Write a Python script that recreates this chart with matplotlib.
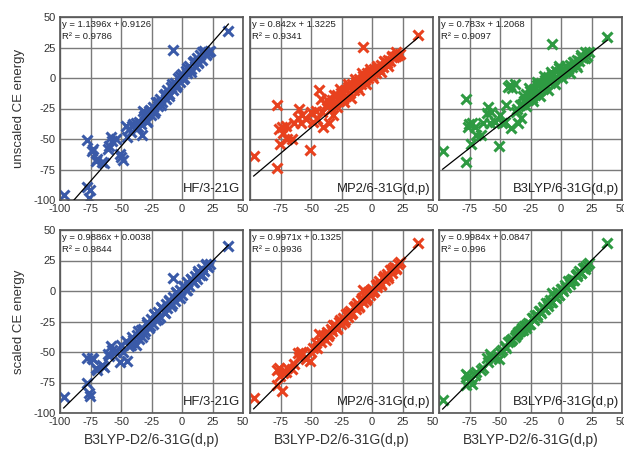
import matplotlib.pyplot as plt
import numpy as np

plt.rcParams['font.family'] = ['Liberation Sans', 'DejaVu Sans']

# reference energies (B3LYP-D2/6-31G(d,p)), shared by all panels
x_ref = [-97, -78, -77.5, -76, -75.5, -74, -73, -70.5, -70, -65.5, -64, -61, -59.5, -58, -57,
         -54.5, -51, -50, -48.5, -46, -45, -43.5, -42, -41, -40, -38, -37, -35, -34, -33, -32,
         -30, -28.5, -27, -25.5, -24, -22.5, -21, -19.5, -18, -16.5, -15, -13.5, -12, -10.5,
         -9, -7.5, -6, -4.5, -3, -1.5, 0, 1.5, 3, 4.5, 6, 7.5, 9, 10.5, 12, 13.5, 15, 16.5,
         18, 19.5, 21, -7, 38, 23,
         -36, -31, -29, -26, -23, -20, -17, -14, -11, -8, -5, -2, 1, 4, 7, 10, 13, 16, 20]

# unscaled CE energies
hf_unscaled = [-96, -51, -89, -98, -92, -60, -58, -68, -66, -69, -70, -58, -56, -48, -52,
               -50, -62, -65, -67, -39, -48, -42, -44, -39, -38, -37, -41, -36, -38, -47, -27,
               -29, -36, -27, -30, -24, -27, -20, -23, -17, -20, -14, -17, -10, -13,
               -7, -10, -4, -6, 0, -3, 3, 0, 6, 4, 10, 7, 13, 10, 16, 13, 19, 15,
               22, 19, 21, 23, 38.5, 22,
               -40, -31, -35, -26, -29, -20, -22, -13, -15, -5, -7, 2, -1, 8, 5, 14, 12, 21, 20]
mp2_unscaled = [-64, -22, -74, -42, -54, -40, -45, -39, -50, -50, -37, -33, -25, -37, -30,
                -34, -59, -28, -36, -27, -34, -10, -17, -28, -40, -22, -18, -37, -25, -18, -30,
                -20, -14, -19, -12, -17, -10, -15, -7, -12, -5, -10, -3, -7, -1,
                -5, 2, -2, 4, 0, 5, 2, 7, 4, 9, 7, 11, 9, 13, 12, 15, 14, 18,
                17, 21, 19, 25.5, 35, 20,
                -23, -14, -24, -9, -20, -5, -16, -1, -10, 4, -5, 7, 0, 10, 5, 14, 10, 17, 18]
b3lyp_unscaled = [-60, -17, -69, -40, -38, -54, -37, -40, -47, -47, -37, -29, -24, -37, -28,
                  -36, -56, -30, -37, -36, -22, -7, -6, -41, -8, -5, -28, -37, -22, -33, -21,
                  -19, -13, -18, -11, -16, -9, -14, -6, -11, -4, -9, -2, -6, 1,
                  -4, 3, -1, 6, 1, 10, 3, 7, 5, 9, 7, 11, 9, 13, 11, 15, 14, 19,
                  16, 21, 18, 28, 33.5, 21,
                  -25, -15, -23, -8, -19, -3, -15, 2, -10, 5, -5, 8, 0, 10, 4, 13, 9, 17, 16]

# scaled CE energies
hf_scaled = [-87, -55, -75, -84, -86, -55, -56, -63, -65, -61, -62, -52, -53, -45, -48,
             -50, -58, -44, -50, -41, -57, -45, -44, -38, -40, -44, -36, -39, -32, -38, -31,
             -33, -27, -30, -23, -27, -20, -24, -17, -21, -14, -17, -11, -14, -8,
             -12, -5, -8, -2, -5, 1, -3, 4, 1, 7, 4, 10, 7, 12, 10, 15, 13, 18,
             16, 21, 20, 10.5, 36.5, 22,
             -33, -35, -25, -29, -19, -23, -13, -18, -7, -11, -1, -6, 4, 1, 10, 7, 16, 13, 22]
mp2_scaled = [-88, -65, -77, -63, -70, -82, -67, -66, -63, -64, -60, -51, -54, -50, -52,
              -56, -57, -50, -47, -43, -47, -35, -42, -38, -36, -40, -34, -35, -31, -33, -28,
              -28, -30, -25, -27, -22, -24, -19, -21, -16, -18, -13, -15, -10, -12,
              -7, -9, -4, -6, -1, -3, 2, 0, 5, 3, 8, 6, 11, 9, 14, 12, 17, 15,
              20, 18, 22, 1, 39, 24,
              -37, -29, -31, -24, -25, -18, -19, -12, -13, -6, -7, 0, -1, 6, 5, 12, 11, 18, 19]
b3lyp_scaled = [-89, -68, -77, -70, -74, -72, -76, -69, -66, -65, -63, -55, -58, -52, -54,
                -55, -56, -50, -48, -45, -47, -42, -41, -40, -39, -38, -36, -34, -33, -32, -30,
                -29, -30, -26, -27, -22, -24, -20, -20, -16, -18, -13, -15, -10, -12,
                -7, -9, -4, -6, -1, -3, 2, 0, 5, 3, 8, 6, 10, 9, 13, 12, 16, 15,
                19, 18, 21, -2, 39, 23,
                -35, -32, -28, -27, -22, -21, -16, -15, -10, -9, -4, -3, 2, 3, 8, 9, 14, 15, 20]

methods = ["HF/3-21G", "MP2/6-31G(d,p)", "B3LYP/6-31G(d,p)"]
colors = ["#3a5aa8", "#e8411e", "#2e9a42"]
rows = [[hf_unscaled, mp2_unscaled, b3lyp_unscaled],
        [hf_scaled, mp2_scaled, b3lyp_scaled]]
# trendline fits as printed on the chart: (slope, intercept, R^2 text)
fits = [[(1.1396, 0.9126, "0.9786"), (0.842, 1.3225, "0.9341"), (0.783, 1.2068, "0.9097")],
        [(0.9886, 0.0038, "0.9844"), (0.9971, 0.1325, "0.9936"), (0.9984, 0.0847, "0.996")]]
row_labels = ["unscaled CE energy", "scaled CE energy"]

fig = plt.figure(figsize=(6.24, 4.51), dpi=100)
W, H = 624, 451
lefts = [60, 250, 439]
tops = [17, 230]
size = 183

xs = np.array(x_ref)
ticks = [-100, -75, -50, -25, 0, 25, 50]
for r in range(2):
    for c in range(3):
        ax = fig.add_axes([lefts[c] / W, (H - tops[r] - size) / H, size / W, size / H])
        ax.set_xlim(-100, 50)
        ax.set_ylim(-100, 50)
        ax.set_xticks(ticks)
        ax.set_yticks(ticks)
        ax.grid(True, color="#7a7a7a", linewidth=1.0)
        ax.set_axisbelow(True)
        for s in ax.spines.values():
            s.set_color("#555555")
            s.set_linewidth(1.2)
        ax.tick_params(length=0, labelsize=8, labelcolor="#333333", pad=3)
        if c == 0:
            ax.set_xticklabels([str(t) for t in ticks])
            ax.set_yticklabels([str(t) for t in ticks])
            ax.set_ylabel(row_labels[r], fontsize=9.5, color="#333333", labelpad=6)
        else:
            ax.set_xticklabels([""] + [str(t) for t in ticks[1:]])
            ax.set_yticklabels([])
        if r == 1:
            ax.set_xlabel("B3LYP-D2/6-31G(d,p)", fontsize=10, color="#333333", labelpad=4)

        ys = np.array(rows[r][c])
        ax.plot(xs, ys, "x", color=colors[c], markersize=6.5, markeredgewidth=2.2, zorder=2)
        m, b, r2 = fits[r][c]
        xl = np.array([xs.min(), xs.max()])
        ax.plot(xl, m * xl + b, color="black", linewidth=0.9, zorder=3)

        ax.text(0.01, 0.985, f"y = {m}x + {b}\nR\u00b2 = {r2}", transform=ax.transAxes,
                ha="left", va="top", fontsize=6.8, color="#222222", linespacing=1.45)
        ax.text(0.985, 0.03, methods[c], transform=ax.transAxes, ha="right", va="bottom",
                fontsize=9.4, color="#222222")

fig.savefig("out.png", dpi=100)
